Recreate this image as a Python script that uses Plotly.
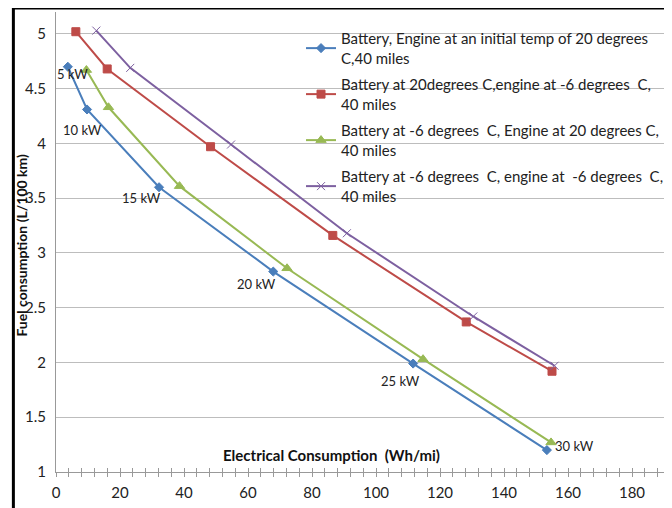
import plotly.graph_objects as go

# electrical consumption (Wh/mi) vs fuel consumption (L/100 km)
blue_x = [3.7, 9.7, 32.2, 67.9, 111.6, 153.4]
blue_y = [4.70, 4.31, 3.60, 2.83, 1.99, 1.20]
red_x = [6.2, 16.0, 48.3, 86.5, 128.2, 155.0]
red_y = [5.02, 4.68, 3.97, 3.16, 2.37, 1.92]
green_x = [9.5, 16.4, 38.6, 72.2, 114.7, 154.7]
green_y = [4.67, 4.33, 3.61, 2.86, 2.03, 1.27]
purple_x = [12.6, 23.2, 54.7, 90.9, 130.4, 155.8]
purple_y = [5.03, 4.69, 3.99, 3.18, 2.42, 1.97]

names = [
    "Battery, Engine at an initial temp of 20 degrees<br>C,40 miles",
    "Battery at 20degrees C,engine at -6 degrees  C,<br>40 miles",
    "Battery at -6 degrees  C, Engine at 20 degrees C,<br>40 miles",
    "Battery at -6 degrees  C, engine at  -6 degrees  C,<br>40 miles",
]

kw_labels = ["5 kW", "10 kW", "15 kW", "20 kW", "25 kW", "30 kW"]
kw_label_x = [5.3, 8.4, 26.7, 62.6, 107.6, 162.0]
kw_label_y = [4.63, 4.12, 3.50, 2.72, 1.83, 1.24]

FONT = "Lato, 'Open Sans', sans-serif"

fig = go.Figure()
series = [
    (blue_x, blue_y, "#4A7EBB", "diamond", 7),
    (red_x, red_y, "#BE4B48", "square", 8),
    (green_x, green_y, "#98B954", "triangle-up", 9),
    (purple_x, purple_y, "#7D60A0", "x-thin-open", 8),
]
for i, ((xs, ys, col, sym, sz), nm) in enumerate(zip(series, names)):
    fig.add_trace(go.Scatter(
        x=xs, y=ys, name=nm, mode="lines+markers", legendgroup=f"g{i}",
        line=dict(color=col, width=2),
        marker=dict(symbol=sym, size=sz, color=col, line=dict(color=col, width=1)),
    ))

for t, lx, ly in zip(kw_labels, kw_label_x, kw_label_y):
    fig.add_annotation(x=lx, y=ly, text=t, showarrow=False,
                       font=dict(family=FONT, size=13, color="#222"))

fig.add_annotation(x=86.2, y=1.155, text="<b>Electrical Consumption  (Wh/mi)</b>",
                   showarrow=False, font=dict(family=FONT, size=15, color="#111"))
fig.add_annotation(xref="paper", yref="paper", x=-0.057, y=0.493, textangle=-90,
                   xanchor="center", yanchor="middle",
                   text="<b>Fuel consumption (L/100 km)</b>", showarrow=False,
                   font=dict(family=FONT, size=14, color="#111"))

# black frame on top and left (cropped chart border)
fig.add_shape(type="line", xref="paper", yref="paper", x0=-0.0701, x1=1.02,
              y0=1.0087, y1=1.0087, line=dict(color="black", width=3))
fig.add_shape(type="line", xref="paper", yref="paper", x0=-0.0701, x1=-0.0701,
              y0=1.0087, y1=-0.09, line=dict(color="black", width=3))

# page body has an 8px margin, so the figure is shrunk and shifted to compensate
fig.update_layout(
    width=664, height=500,
    margin=dict(l=48, r=3, t=4, b=36),
    paper_bgcolor="white", plot_bgcolor="white",
    font=dict(family=FONT, size=15, color="#222"),
    showlegend=True,
    legend=dict(x=0.403, y=0.978, xanchor="left", yanchor="top",
                bgcolor="rgba(0,0,0,0)", font=dict(size=15, color="#222"),
                tracegroupgap=4, itemwidth=30),
    xaxis=dict(range=[0, 190], dtick=20, tick0=0, showgrid=False,
               showline=True, linecolor="#999", linewidth=1,
               ticks="outside", ticklen=4, tickcolor="#999",
               minor=dict(dtick=4, ticks="outside", ticklen=4, tickcolor="#999"),
               tickfont=dict(size=15), ticklabelstandoff=3, zeroline=False),
    xaxis2=dict(range=[0, 190], overlaying="x", anchor="y", side="bottom",
                showticklabels=False, showgrid=False, showline=False,
                ticks="inside", ticklen=4, tickcolor="#999", dtick=20, tick0=0,
                minor=dict(dtick=4, ticks="inside", ticklen=4, tickcolor="#999")),
    yaxis=dict(range=[1, 5.2], dtick=0.5, tick0=1, showgrid=True, gridcolor="#BDBDBD",
               showline=True, linecolor="#999", linewidth=1, ticks="",
               tickfont=dict(size=15), ticklabelstandoff=6, zeroline=False),
)
# empty trace so xaxis2 is drawn
fig.add_trace(go.Scatter(x=[None], y=[None], xaxis="x2", showlegend=False, hoverinfo="skip"))

fig.write_html("out.html")
